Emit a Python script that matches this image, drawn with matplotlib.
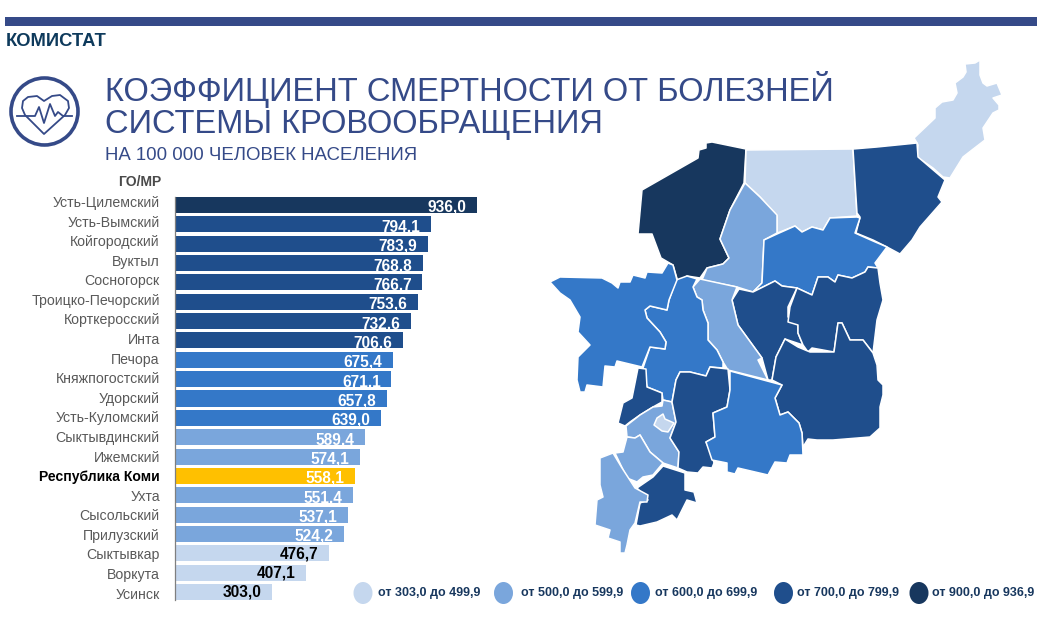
"""Death rate from circulatory disease in Komi districts: bar ranking + choropleth."""

import matplotlib

matplotlib.use("Agg")
import matplotlib.pyplot as plt
from matplotlib.patches import Circle, Ellipse, Polygon

plt.rcParams["font.family"] = ["Liberation Sans", "DejaVu Sans"]

districts = ["Усть-Цилемский", "Усть-Вымский", "Койгородский", "Вуктыл", "Сосногорск",
             "Троицко-Печорский", "Корткеросский", "Инта", "Печора", "Княжпогостский",
             "Удорский", "Усть-Куломский", "Сыктывдинский", "Ижемский", "Республика Коми",
             "Ухта", "Сысольский", "Прилузский", "Сыктывкар", "Воркута", "Усинск"]
rates = [936.0, 794.1, 783.9, 768.8, 766.7, 753.6, 732.6, 706.6, 675.4, 671.1, 657.8,
         639.0, 589.4, 574.1, 558.1, 551.4, 537.1, 524.2, 476.7, 407.1, 303.0]

legend_labels = ["от 303,0 до 499,9", "от 500,0 до 599,9", "от 600,0 до 699,9",
                 "от 700,0 до 799,9", "от 900,0 до 936,9"]
C1, C2, C3, C4, C5 = "#C5D7EE", "#7AA6DC", "#3478C8", "#1F4E8C", "#17375E"
GOLD = "#FFC000"
NAVY = "#354A88"

# district outlines (image pixels)
vorkuta = [(914, 138), (935, 118), (935, 108), (942, 102), (953, 100), (957, 93), (955, 83),
           (963, 77), (966, 72), (965, 64), (975, 63), (980, 60), (980, 75), (983, 83),
           (987, 86), (997, 83), (1002, 95), (993, 98), (999, 105), (999, 110), (993, 113),
           (983, 128), (985, 140), (972, 150), (963, 157), (950, 178), (943, 177), (933, 168),
           (917, 157), (918, 145), (917, 143)]
ust_tsilma = [(706, 143), (712, 142), (746, 149), (744, 183), (730, 210), (720, 239), (729, 258),
              (723, 264), (707, 268), (700, 278), (687, 276), (678, 282), (673, 265), (661, 258),
              (652, 234), (638, 234), (642, 190), (698, 158), (699, 150), (706, 148)]
usinsk = [(746, 150), (853, 149), (857, 216), (830, 218), (823, 230), (812, 227), (802, 232),
          (795, 226), (780, 232), (777, 233), (777, 216), (760, 197), (745, 183)]
inta = [(853, 149), (877, 147), (917, 143), (918, 157), (945, 180), (938, 197), (942, 202),
        (920, 227), (912, 240), (900, 254), (887, 247), (873, 240), (856, 233), (860, 217),
        (857, 213)]
izhma = [(745, 183), (760, 197), (777, 215), (777, 233), (764, 240), (762, 283), (753, 292),
         (737, 287), (702, 280), (707, 268), (723, 264), (729, 258), (720, 239), (730, 210)]
pechora = [(764, 240), (777, 234), (795, 226), (802, 232), (812, 227), (823, 230), (830, 218),
           (857, 217), (860, 218), (855, 233), (873, 241), (887, 247), (875, 263), (878, 268),
           (868, 267), (865, 272), (852, 278), (838, 275), (835, 282), (828, 277), (818, 277),
           (812, 295), (797, 288), (782, 286), (775, 281), (753, 292), (762, 283)]
sosnogorsk = [(739, 289), (753, 292), (775, 281), (782, 286), (797, 288), (788, 307), (788, 317),
              (798, 323), (798, 333), (803, 345), (785, 339), (776, 357), (772, 380), (768, 380),
              (762, 358), (738, 325), (732, 300)]
vuktyl = [(797, 288), (812, 295), (818, 277), (828, 277), (835, 282), (838, 275), (852, 278),
          (865, 272), (868, 267), (878, 268), (880, 283), (883, 300), (877, 320), (873, 353),
          (863, 340), (850, 340), (842, 323), (838, 323), (834, 352), (812, 348), (808, 352),
          (803, 345), (798, 333), (798, 325), (788, 322), (790, 307)]
troitsko = [(785, 339), (798, 347), (810, 352), (834, 352), (838, 323), (842, 323), (850, 340),
            (863, 340), (873, 353), (877, 365), (878, 380), (883, 385), (883, 395), (880, 407),
            (880, 428), (870, 437), (833, 440), (817, 440), (808, 439), (803, 447), (802, 433),
            (799, 423), (788, 412), (780, 415), (775, 398), (782, 385), (772, 380), (776, 357)]
ukhta = [(700, 279), (737, 287), (732, 300), (738, 325), (762, 358), (758, 360), (768, 380),
         (728, 370), (723, 362), (717, 350), (708, 340), (708, 323), (703, 310), (702, 300),
         (697, 297), (693, 287)]
knyazh = [(687, 276), (697, 279), (693, 287), (697, 297), (702, 300), (703, 310), (708, 323),
          (708, 340), (717, 350), (723, 362), (723, 368), (710, 367), (706, 376), (690, 372),
          (680, 372), (676, 380), (672, 402), (663, 400), (662, 393), (647, 387), (643, 368),
          (650, 347), (665, 349), (666, 342), (660, 332), (647, 318), (645, 310), (650, 306),
          (667, 310), (669, 300), (676, 280)]
udora = [(550, 282), (560, 277), (602, 278), (612, 283), (618, 288), (620, 282), (630, 282),
         (633, 275), (645, 278), (647, 272), (662, 273), (668, 263), (673, 265), (677, 280),
         (669, 300), (667, 310), (650, 306), (645, 310), (647, 318), (660, 332), (666, 342),
         (665, 349), (650, 347), (642, 367), (617, 361), (615, 367), (605, 366), (603, 387),
         (587, 385), (585, 392), (580, 392), (577, 380), (578, 357), (590, 345), (578, 332),
         (580, 317), (570, 300), (560, 293)]
ust_vym = [(638, 368), (646, 369), (647, 387), (662, 393), (662, 402), (653, 407), (640, 415),
           (630, 422), (625, 426), (618, 423), (623, 403), (632, 398)]
syktyvdin = [(663, 400), (672, 402), (676, 422), (670, 438), (679, 452), (678, 468), (663, 463),
             (650, 452), (640, 435), (635, 438), (627, 437), (626, 426), (640, 415), (653, 407),
             (662, 406)]
syktyvkar = [(657, 418), (663, 414), (665, 419), (674, 423), (668, 432), (662, 431), (654, 425)]
kortkeros = [(680, 372), (690, 372), (706, 376), (710, 367), (728, 369), (730, 390), (727, 407),
             (713, 413), (715, 437), (706, 442), (712, 455), (714, 463), (712, 468), (703, 467),
             (698, 473), (687, 472), (678, 468), (679, 452), (670, 438), (676, 422), (672, 402),
             (676, 380)]
ust_kulom = [(730, 371), (782, 385), (775, 398), (780, 415), (788, 412), (799, 423), (802, 433),
             (803, 455), (790, 455), (787, 463), (775, 462), (768, 475), (738, 468), (735, 474),
             (727, 472), (727, 463), (712, 460), (706, 442), (715, 437), (713, 413), (727, 407),
             (730, 390)]
sysola = [(627, 437), (635, 438), (640, 435), (650, 452), (663, 463), (653, 475), (643, 477),
          (637, 482), (627, 478), (615, 453), (623, 452)]
koigorod = [(663, 466), (685, 473), (685, 490), (694, 492), (697, 503), (687, 500), (677, 520),
            (672, 515), (657, 522), (640, 526), (636, 525), (640, 503), (648, 500), (637, 488),
            (653, 477)]
priluz = [(613, 453), (622, 468), (635, 488), (648, 495), (647, 502), (640, 502), (635, 523),
          (630, 530), (627, 545), (625, 553), (620, 553), (620, 542), (608, 538), (610, 530),
          (595, 525), (597, 500), (603, 497), (600, 485), (600, 458)]
map_regions = [(vorkuta, C1), (ust_tsilma, C5), (usinsk, C1), (inta, C4), (izhma, C2), (pechora, C3),
               (sosnogorsk, C4), (vuktyl, C4), (troitsko, C4), (ukhta, C2), (knyazh, C3), (udora, C3),
               (ust_vym, C4), (syktyvdin, C2), (syktyvkar, C1), (kortkeros, C4), (ust_kulom, C3),
               (sysola, C2), (koigorod, C4), (priluz, C2)]

heart = [(44, 134), (25, 115), (22, 108), (23, 101), (28, 97), (37, 96), (44, 101), (52, 96),
         (60, 95), (68, 101), (69, 108), (65, 115)]
pulse = [(17, 116), (35, 116), (39, 107), (44, 123), (50, 104), (55, 116), (58, 112), (63, 116), (72, 116)]


def bar_color(name, value):
    if name == "Республика Коми":
        return GOLD
    if value >= 900:
        return C5
    if value >= 700:
        return C4
    if value >= 600:
        return C3
    if value >= 500:
        return C2
    return C1


W, H = 1037, 628
fig = plt.figure(figsize=(W / 100, H / 100), dpi=100, facecolor="white")

# overlay in image pixels for the header, the map and the legend
bg = fig.add_axes([0, 0, 1, 1])
bg.set_xlim(0, W)
bg.set_ylim(H, 0)
bg.axis("off")

bg.fill_between([5, 1037], 17, 26, color=NAVY, lw=0)
bg.text(6, 46, "КОМИСТАТ", fontsize=13.2, fontweight="bold", color="#0E3A5C", va="baseline")
bg.text(105, 101.5, "КОЭФФИЦИЕНТ СМЕРТНОСТИ ОТ БОЛЕЗНЕЙ", fontsize=23.5, color=NAVY, va="baseline")
bg.text(105, 133, "СИСТЕМЫ КРОВООБРАЩЕНИЯ", fontsize=23.5, color=NAVY, va="baseline")
bg.text(105, 160, "НА 100 000 ЧЕЛОВЕК НАСЕЛЕНИЯ", fontsize=13.45, color=NAVY, va="baseline")
bg.text(161, 186, "ГО/МР", fontsize=10, fontweight="bold", color="#4A4A4A", ha="right", va="baseline")

bg.add_patch(Circle((44.5, 111.5), 33.5, fill=False, ec=NAVY, lw=2.6))
bg.add_patch(Polygon(heart, closed=True, fill=False, ec=NAVY, lw=1.3, joinstyle="round"))
bg.plot(*zip(*pulse), color=NAVY, lw=1.3)

for outline, color in map_regions:
    bg.add_patch(Polygon(outline, closed=True, fc=color, ec="white", lw=1.1, joinstyle="round"))

legend_marker_x = [363, 503.5, 640.5, 783.5, 919]
legend_text_x = [378, 521, 655, 797, 932]
for mx, tx, label, color in zip(legend_marker_x, legend_text_x, legend_labels, [C1, C2, C3, C4, C5]):
    bg.add_patch(Ellipse((mx, 593), 19, 22, fc=color, ec="none"))
    bg.text(tx, 593, label, fontsize=9.0, fontweight="bold", color="#17375E", va="center")

# ranking bars, one row = 19.35 px, 1 unit = 0.3232 px
ax = fig.add_axes([174.5 / W, 1 - 601.7 / H, 323.2 / W, 406.4 / H])
ax.patch.set_alpha(0)
positions = list(range(len(districts)))
ax.barh(positions, rates, height=0.83, color=[bar_color(n, v) for n, v in zip(districts, rates)])
ax.set_xlim(0, 1000)
ax.set_ylim(20.5, -0.5)
ax.set_xticks([])
# the name column has a slightly wider pitch than the bars (19.58 px), starting 3.5 px higher
ax.set_yticks([(19.58 * p - 3.5) / 19.35 for p in positions], districts)
ax.tick_params(axis="y", length=0, pad=10.6, labelsize=10.2, labelcolor="#595959")
for spine in ["top", "right", "bottom"]:
    ax.spines[spine].set_visible(False)
ax.spines["left"].set_color("#7F7F7F")
ax.spines["left"].set_linewidth(0.9)
ax.spines["left"].set_bounds(-0.42, 20.42)
for tick in ax.get_yticklabels():
    if tick.get_text() == "Республика Коми":
        tick.set_fontweight("bold")
        tick.set_fontsize(10.1)
        tick.set_color("black")

for pos, value in zip(positions, rates):
    dark_text = value < 500
    label = f"{value:.1f}".replace(".", ",")
    ax.text(value - 33, pos + (0.02 if dark_text else 0.13), label, ha="right", va="center",
            fontsize=11.2, fontweight="bold", color="black" if dark_text else "white")

fig.savefig("out.png", dpi=100)
